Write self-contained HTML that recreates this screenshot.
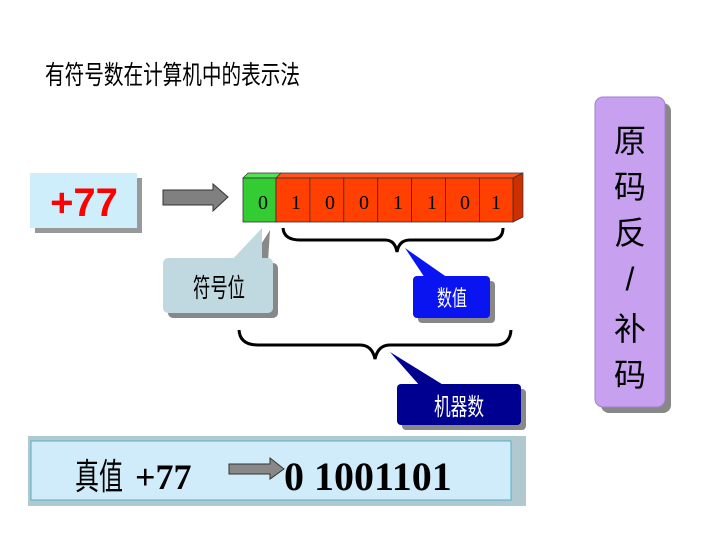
<!DOCTYPE html>
<html><head><meta charset="utf-8"><style>
html,body{margin:0;padding:0;background:#fff;}
svg{display:block;}
</style></head><body>
<svg width="720" height="540" xmlns="http://www.w3.org/2000/svg" font-family="Liberation Sans, Noto Sans CJK SC, sans-serif">
<rect width="720" height="540" fill="#fff"/>
<text x="45" y="84" font-size="26" fill="#000" textLength="255" lengthAdjust="spacingAndGlyphs">有符号数在计算机中的表示法</text>

<!-- +77 -->
<rect x="35" y="178" width="107" height="55" fill="#999"/>
<rect x="30" y="173" width="107" height="55" fill="#cfeefc"/>
<text x="84" y="216" font-size="40" font-weight="bold" fill="#f00" text-anchor="middle">+77</text>

<!-- arrow -->
<polygon points="163,190 213,190 213,184 228,197 213,211 213,205 163,205" fill="#808080" stroke="#333" stroke-width="1"/>

<!-- cells -->
<polygon points="243,178 248,173 281,173 276,178" fill="#55e055" stroke="#333" stroke-width="0.7"/>
<polygon points="276,178 281,173 523,173 513,178" fill="#ff5522" stroke="#333" stroke-width="0.7"/>
<polygon points="513,178 523,173 523,217 513,222" fill="#cc3000" stroke="#333" stroke-width="0.7"/>
<rect x="243" y="178" width="33" height="44" fill="#33cc33" stroke="#333" stroke-width="0.8"/>
<g fill="#ff4000" stroke="#333" stroke-width="0.8">
<rect x="276" y="178" width="33.9" height="44"/><rect x="309.9" y="178" width="33.9" height="44"/>
<rect x="343.8" y="178" width="33.9" height="44"/><rect x="377.7" y="178" width="33.9" height="44"/>
<rect x="411.6" y="178" width="33.9" height="44"/><rect x="445.5" y="178" width="33.9" height="44"/>
<rect x="479.4" y="178" width="33.6" height="44"/>
</g>
<g font-family="Liberation Serif, serif" font-size="20" text-anchor="middle" fill="#000">
<text x="263" y="209">0</text><text x="296" y="209">1</text><text x="330" y="209">0</text><text x="364" y="209">0</text>
<text x="398" y="209">1</text><text x="432" y="209">1</text><text x="465" y="209">0</text><text x="496" y="209">1</text>
</g>

<!-- braces -->
<path d="M283,228 Q284,240 300,240 L385,240 Q395,240 397,252 Q399,240 410,240 L490,240 Q503,240 503,228" fill="none" stroke="#000" stroke-width="3"/>
<path d="M239,330 Q240,345 258,345 L360,345 Q372,345 375,359 Q378,345 390,345 L495,345 Q510,345 511,330" fill="none" stroke="#000" stroke-width="3"/>

<!-- sign callout -->
<polygon points="270,230 268,262 250,262" fill="#888"/>
<rect x="168" y="263" width="110" height="55" rx="5" fill="#888"/>
<polygon points="262,228 262,262 230,262" fill="#c0d8e0"/>
<rect x="163" y="258" width="110" height="55" rx="5" fill="#c0d8e0"/>
<text x="219" y="297" font-size="26" text-anchor="middle" fill="#000" textLength="52" lengthAdjust="spacingAndGlyphs">符号位</text>

<!-- value callout -->
<rect x="418" y="281" width="77" height="42" rx="4" fill="#888"/>
<polygon points="405,248 448,278 425,278" fill="#0a14f0"/>
<rect x="413" y="276" width="77" height="42" rx="4" fill="#0a14f0"/>
<text x="452" y="306" font-size="22" text-anchor="middle" fill="#fff" textLength="30" lengthAdjust="spacingAndGlyphs">数值</text>

<!-- machine number callout -->
<rect x="402" y="389" width="124" height="41" rx="4" fill="#888"/>
<polygon points="390,352 445,386 420,386" fill="#000090"/>
<rect x="397" y="384" width="124" height="41" rx="4" fill="#000090"/>
<text x="459" y="415" font-size="24" text-anchor="middle" fill="#fff" textLength="50" lengthAdjust="spacingAndGlyphs">机器数</text>

<!-- bottom box -->
<rect x="28" y="436" width="498" height="70" fill="#b0c8d0"/>
<rect x="31" y="441" width="480" height="59" fill="#d0ecfa" stroke="#55b0c0" stroke-width="1"/>
<text x="75" y="489" font-size="36" fill="#000" textLength="48" lengthAdjust="spacingAndGlyphs">真值</text>
<text x="135" y="489" font-family="Liberation Serif, serif" font-size="36" font-weight="bold" fill="#000">+77</text>
<polygon points="229,464 270,464 270,458 284,469 270,479 270,474 229,474" fill="#888" stroke="#333" stroke-width="1"/>
<text x="284" y="490" font-family="Liberation Serif, serif" font-size="40" font-weight="bold" fill="#000">0 1001101</text>

<!-- side box -->
<rect x="601" y="103" width="70" height="310" rx="8" fill="#888"/>
<rect x="595" y="97" width="70" height="310" rx="8" fill="#c8a0f0" stroke="#a080d0" stroke-width="1"/>
<g font-size="32" text-anchor="middle" fill="#000">
<text x="630" y="152">原</text><text x="630" y="198">码</text><text x="630" y="244">反</text>
<text x="630" y="290">/</text><text x="630" y="340">补</text><text x="630" y="386">码</text>
</g>
</svg>
</body></html>
